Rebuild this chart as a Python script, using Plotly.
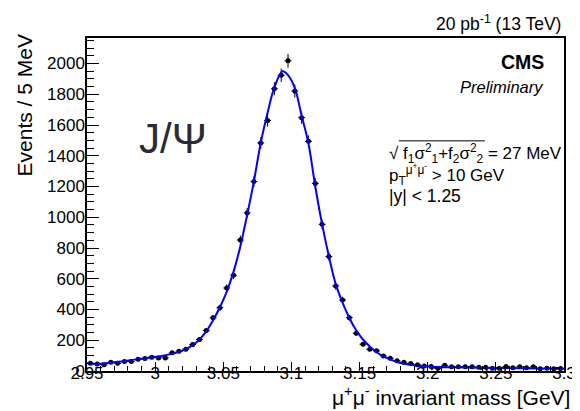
import numpy as np
import plotly.graph_objects as go

# ---- data ----
bin_centers = [round(2.9525 + 0.005 * i, 4) for i in range(70)]
counts = [50, 46, 40, 57, 50, 61, 61, 76, 81, 89,
          85, 85, 118, 129, 142, 172, 205, 263, 346, 411,
          540, 623, 852, 1028, 1232, 1483, 1630, 1836, 1923, 2018,
          1821, 1648, 1494, 1220, 954, 745, 553, 462, 347, 245,
          174, 142, 131, 98, 83, 66, 57, 48, 40, 33,
          29, 18, 37, 27, 27, 27, 27, 24, 24, 18,
          18, 29, 21, 27, 21, 27, 14, 18, 14, 16]
half_bin = 0.0025

fit_x = [2.95, 2.9575, 2.965, 2.975, 2.985, 2.995, 3.005, 3.015, 3.0225, 3.0275,
         3.0325, 3.0375, 3.0425, 3.0475, 3.0525, 3.0575, 3.0625, 3.0675, 3.0725, 3.0775,
         3.0825, 3.0875, 3.0935, 3.0975, 3.1025, 3.1075, 3.1125, 3.1175, 3.1225, 3.1275,
         3.1325, 3.1375, 3.1425, 3.1475, 3.1525, 3.1575, 3.1625, 3.1675, 3.1725, 3.18,
         3.19, 3.2, 3.22, 3.25, 3.28, 3.3]
fit_y = [50, 46, 52, 62, 74, 86, 98, 118, 142, 168,
         205, 258, 330, 415, 515, 645, 810, 1015, 1235, 1485,
         1680, 1845, 1950, 1925, 1840, 1660, 1480, 1200, 955, 745,
         565, 445, 345, 265, 205, 160, 122, 95, 75, 52,
         38, 30, 24, 20, 17, 15]

x_range = [2.95, 3.3]
y_range = [0, 2166]
x_tickvals = [2.95, 3.0, 3.05, 3.1, 3.15, 3.2, 3.25, 3.3]
x_ticktext = ["2.95", "3", "3.05", "3.1", "3.15", "3.2", "3.25", "3.3"]
y_tickvals = [0, 200, 400, 600, 800, 1000, 1200, 1400, 1600, 1800, 2000]

errors = np.sqrt(np.array(counts, dtype=float))

FONT = "Liberation Sans, Arial, Helvetica, sans-serif"

fig = go.Figure()
fig.add_trace(go.Scatter(
    x=bin_centers, y=counts, mode="markers",
    marker=dict(color="black", size=5),
    error_y=dict(type="data", array=errors, color="black", thickness=1, width=0),
    error_x=dict(type="constant", value=half_bin, color="black", thickness=1, width=0),
    showlegend=False,
))
fig.add_trace(go.Scatter(
    x=fit_x, y=fit_y, mode="lines",
    line=dict(color="#0000ff", width=2, shape="spline", smoothing=1.0),
    showlegend=False,
))

L, R, T, B = 79, 567, 30, 363.5
W, H = 580, 411


def px(x):
    return (x - L) / (R - L)


def py(y):
    return (B - y) / (B - T)


fig.update_layout(
    width=W, height=H,
    margin=dict(l=L, r=W - R, t=T, b=H - B, pad=0),
    paper_bgcolor="white", plot_bgcolor="white",
    font=dict(family=FONT, color="black", size=17),
)
fig.update_xaxes(
    range=x_range, showgrid=False, zeroline=False,
    showline=True, linecolor="black", linewidth=1.5, mirror=True,
    ticks="inside", ticklen=9, tickwidth=1.2, tickcolor="black",
    tickvals=x_tickvals, ticktext=x_ticktext,
    tickfont=dict(size=17, family=FONT), ticklabelstandoff=-14,
    minor=dict(ticks="inside", ticklen=5, tickwidth=1, tickcolor="black", dtick=0.01, showgrid=False),
)
fig.update_yaxes(
    range=y_range, showgrid=False, zeroline=False,
    showline=True, linecolor="black", linewidth=1.5, mirror=True,
    ticks="inside", ticklen=12, tickwidth=1.2, tickcolor="black",
    tickvals=y_tickvals,
    tickfont=dict(size=17, family=FONT), ticklabelstandoff=-3,
    minor=dict(ticks="inside", ticklen=7, tickwidth=1, tickcolor="black", dtick=50, showgrid=False),
)

ann = []
# axis titles
ann.append(dict(xref="paper", yref="paper", x=px(328), y=py(389), xanchor="left", yanchor="middle", align="left",
                text="μ<sup>+</sup>μ<sup>-</sup> invariant mass [GeV]", showarrow=False,
                font=dict(size=21, family=FONT)))
ann.append(dict(xref="paper", yref="paper", x=px(15), y=py(24), xanchor="center", yanchor="top",
                text="Events / 5 MeV", textangle=-90, showarrow=False,
                font=dict(size=21, family=FONT)))
# top right lumi
ann.append(dict(xref="paper", yref="paper", x=px(566), y=py(15), xanchor="right", yanchor="middle", align="right",
                text="20 pb<sup>-1</sup> (13 TeV)", showarrow=False, font=dict(size=17.5, family=FONT)))
# CMS
ann.append(dict(xref="paper", yref="paper", x=px(549), y=py(54), xanchor="right", yanchor="middle", align="right",
                text="<b>CMS</b>", showarrow=False, font=dict(size=19.5, family=FONT)))
ann.append(dict(xref="paper", yref="paper", x=px(549), y=py(79), xanchor="right", yanchor="middle", align="right",
                text="<i>Preliminary</i>", showarrow=False, font=dict(size=16.5, family=FONT)))
# J/psi
ann.append(dict(xref="paper", yref="paper", x=px(130), y=py(131), xanchor="left", yanchor="middle", align="left",
                text="J/Ψ", showarrow=False, font=dict(size=42, family=FONT, color="#2b2b33")))
# info block
ann.append(dict(xref="paper", yref="paper", x=px(386), y=py(146), xanchor="left", yanchor="middle", align="left",
                text="√ f<sub>1</sub>σ<sup>2</sup><sub>1</sub>+f<sub>2</sub>σ<sup>2</sup><sub>2</sub> = 27 MeV",
                showarrow=False, font=dict(size=17, family=FONT)))
ann.append(dict(xref="paper", yref="paper", x=px(386), y=py(167), xanchor="left", yanchor="middle", align="left",
                text="p<sub>T</sub><sup>μ<sup>+</sup>μ<sup>-</sup></sup> > 10 GeV",
                showarrow=False, font=dict(size=17, family=FONT)))
ann.append(dict(xref="paper", yref="paper", x=px(386), y=py(188), xanchor="left", yanchor="middle", align="left",
                text="|y| < 1.25", showarrow=False, font=dict(size=17.5, family=FONT)))
fig.update_layout(annotations=ann)

# radical overline
fig.add_shape(type="line", xref="paper", yref="paper",
              x0=px(398), x1=px(486), y0=py(133), y1=py(133),
              line=dict(color="black", width=1))

fig.write_html("out.html")
